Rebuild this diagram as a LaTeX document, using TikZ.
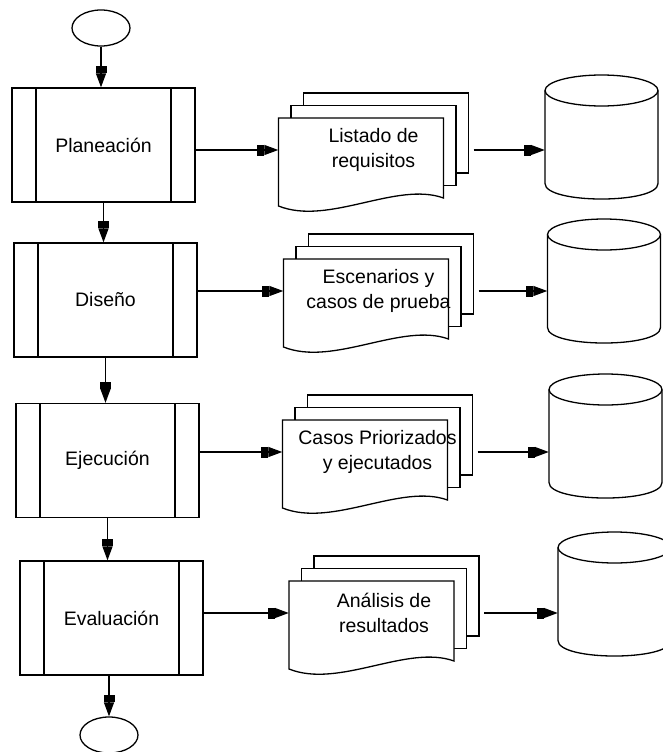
\documentclass[tikz,border=0pt]{standalone}
\usepackage{fontspec}
\setmainfont{Liberation Sans}
\usetikzlibrary{arrows.meta,shapes.geometric}
\tikzset{
    proc/.style =   {rectangle,
                    fill=white,
                    draw=black,
                    text=black,
                    line width=1.3pt,
                    minimum width=183pt,
                    minimum height=114pt,
                    font=\fontsize{19.5}{25}\selectfont,
                    path picture={
                        \draw[line width=1.3pt]
                            ([xshift=24pt]path picture bounding box.north west) --
                            ([xshift=24pt]path picture bounding box.south west)
                            ([xshift=-24pt]path picture bounding box.north east) --
                            ([xshift=-24pt]path picture bounding box.south east);}},
    term/.style =   {ellipse,
                    fill=white,
                    draw=black,
                    line width=1.3pt,
                    minimum width=58pt,
                    minimum height=36pt},
    page/.style =   {fill=white,
                    draw=black,
                    line width=1.3pt},
    doc/.style =    {rectangle,
                    text=black,
                    align=center,
                    inner sep=0pt,
                    minimum width=190pt,
                    font=\fontsize{19.5}{25}\selectfont},
    store/.style =  {rectangle,
                    inner sep=0pt,
                    minimum width=113pt,
                    minimum height=124pt},
    flow/.style =   {line width=1.3pt,
                    -{Rectangle[length=7pt,width=11pt]Triangle[length=14pt,width=10pt]}},
    x=1pt,
    y=-1pt}

\begin{document}
\begin{tikzpicture}
                \useasboundingbox (0,0) rectangle (662,752);
                % process steps
                \node[term]     (s)  at (101,28)      {};
                \node[proc]     (b1) at (103.5,145)   {Planeación};
                \node[proc]     (b2) at (105.5,300)   {Diseño};
                \node[proc]     (b3) at (107.5,460.5) {Ejecución};
                \node[proc]     (b4) at (111.5,618)   {Evaluación};
                \node[term]     (e)  at (109,735)     {};
                % stacked documents
                \foreach \n/\x/\y/\t in {d1/373.5/150/{Listado de\\requisitos},
                                         d2/378.5/291/{Escenarios y\\casos de prueba},
                                         d3/377.5/452/{Casos Priorizados\\y ejecutados},
                                         d4/384/613/{Análisis de\\resultados}}{
                    \draw[page] (\x-70,\y-57) rectangle (\x+95,\y+23);
                    \draw[page] (\x-82.5,\y-44.5) rectangle (\x+82.5,\y+35.5);
                    \draw[page] (\x-95,\y-32) -- (\x+70,\y-32) -- (\x+70,\y+48)
                        .. controls (\x+23,\y+31) and (\x-45,\y+76) .. (\x-95,\y+56) -- cycle;
                    \node[doc] (\n) at (\x,\y) {\t};
                }
                % data stores
                \foreach \n/\x/\y in {c1/601.5/137, c2/604/281, c3/605.5/436, c4/614.5/594}{
                    \node[store] (\n) at (\x,\y) {};
                    \draw[page] (\x-56.5,\y-46.5) -- (\x-56.5,\y+46.5)
                        .. controls (\x-56.5,\y+67.2) and (\x+56.5,\y+67.2) .. (\x+56.5,\y+46.5)
                        -- (\x+56.5,\y-46.5);
                    \draw[page] (\x,\y-46.5) ellipse [x radius=56.5, y radius=15.5];
                }
                \path [flow]    (s.south)  edge (s.south |- b1.north)
                                (b1.south) edge (b1.south |- b2.north)
                                (b2.south) edge (b2.south |- b3.north)
                                (b3.south) edge (b3.south |- b4.north)
                                (b4.south -| e.north) edge (e.north);
                \foreach \i in {1,...,4}{
                    \draw[flow] (b\i.east |- d\i.west) -- (d\i.west);
                    \draw[flow,shorten <=5pt] (d\i.east) -- (d\i.east -| c\i.west);
                }
        \end{tikzpicture}
\end{document}
